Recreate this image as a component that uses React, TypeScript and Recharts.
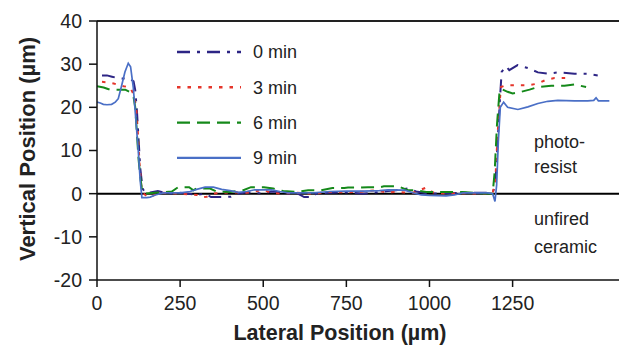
import React from "react";
import { LineChart, Line, XAxis, YAxis, ReferenceLine, Legend, Label } from "recharts";

// profile traces, lateral position (µm) vs vertical position (µm)
const x0 = [15, 30, 45, 60, 75, 100, 110, 115, 120, 124, 130, 137, 145, 160, 183, 200, 225, 250, 275, 300, 325, 343, 375, 403, 425, 450, 475, 500, 525, 550, 575, 600, 623, 644, 660, 700, 750, 800, 850, 875, 900, 935, 960, 1000, 1050, 1100, 1150, 1190, 1198, 1205, 1212, 1217, 1230, 1240, 1265, 1300, 1326, 1356, 1386, 1436, 1476, 1506];
const y0 = [27.4, 27.4, 27.1, 26.8, 26.7, 26.6, 26, 24, 19.3, 14, 6, 1.2, 0.2, 0.3, 0.6, 0.3, 0, 0.2, 0, -0.3, 0, -0.8, -0.8, -0.7, 0, 0.3, 0.2, 0, 0.5, 0.3, 0, 0.2, -0.8, -0.8, 0, 0.2, 0.3, 0, 0.4, 0.6, 0.8, 1.2, 0.5, 0, 0.1, 0.2, 0.2, 0.2, 2, 12, 22, 28.2, 29.5, 28.6, 29.8, 29, 28.1, 27.8, 28.1, 27.8, 27.8, 27.4];

const x3 = [15, 30, 50, 65, 80, 100, 110, 118, 123, 128, 133, 140, 150, 160, 180, 200, 250, 300, 313, 330, 350, 400, 450, 500, 520, 550, 600, 650, 700, 750, 800, 840, 870, 900, 950, 990, 1010, 1050, 1100, 1150, 1190, 1198, 1205, 1212, 1215, 1230, 1266, 1296, 1326, 1351, 1376, 1416];
const y3 = [25.9, 25.8, 25.5, 25.2, 24.9, 24.6, 23, 20, 14, 7, 2, 0, -0.5, -0.8, 0, 0.2, 0, -0.3, -0.8, -0.7, 0, 0.3, 0.2, 0.9, 0.3, 0, 0.2, 0, 0.4, 0.3, 0.5, 0.8, 0.3, 0.4, 0.2, 1.4, 0.3, 0, 0.1, 0, 0.1, 3, 14, 22, 24.7, 25.1, 25.1, 25.1, 25.5, 26.4, 26.8, 26.8];

const x6 = [0, 20, 35, 50, 85, 100, 110, 115, 120, 125, 130, 135, 140, 175, 200, 225, 244, 277, 290, 300, 340, 360, 400, 440, 463, 502, 530, 560, 600, 635, 674, 708, 744, 755, 794, 815, 850, 863, 905, 935, 960, 990, 1050, 1100, 1150, 1190, 1196, 1203, 1210, 1215, 1235, 1250, 1276, 1301, 1326, 1366, 1406, 1436, 1471];
const y6 = [24.9, 24.6, 24.2, 24.1, 24.1, 23.5, 22.4, 20, 14, 8, 4, 1, 0, 0.2, 0.3, 0.5, 1.5, 1.5, 0.8, 1.2, 1.2, 0.5, 0.4, 0.8, 1.5, 1.5, 1.2, 0.6, 0.4, 0.8, 0.8, 1.3, 1.3, 1.4, 1.4, 1.5, 1.5, 1.7, 1.7, 0.8, 0.8, 0.4, 0.4, 0.4, 0.1, 0, 5, 16, 23, 24.3, 23.6, 23.2, 23.6, 24.1, 24.7, 25, 25, 25.3, 24.7];

const x9 = [0, 10, 19, 30, 44, 55, 64, 74, 84, 94, 101, 109, 117, 124, 130, 135, 150, 160, 175, 200, 250, 280, 300, 325, 350, 375, 400, 425, 450, 475, 525, 550, 575, 650, 700, 750, 800, 850, 875, 925, 950, 975, 1000, 1050, 1075, 1100, 1175, 1190, 1197, 1202, 1207, 1213, 1223, 1235, 1266, 1296, 1326, 1356, 1386, 1436, 1476, 1494, 1501, 1508, 1541];
const y9 = [21.2, 21, 20.7, 20.6, 20.7, 21.2, 22, 25, 28.2, 30.2, 29.4, 24.7, 17, 10, 3, -0.9, -0.9, -0.8, -0.3, 0.2, 0.2, 0.5, 1, 1.5, 1.5, 1, 0.7, 0.3, 0.5, 0.9, 0.9, 0.5, 0.2, 0.2, 0.5, 0.6, 0.6, 0.7, 0.9, 0.8, 0.2, -0.3, -0.4, -0.5, -0.3, 0.2, 0.2, 0, -1.8, 2, 12, 20, 21.2, 20, 19.5, 20.1, 20.9, 21.4, 21.6, 21.5, 21.5, 21.6, 22.2, 21.5, 21.5];

const xTicks = [0, 250, 500, 750, 1000, 1250];
const yTicks = [-20, -10, 0, 10, 20, 30, 40];

const series = [
  { name: "0 min", color: "#2d2585", dash: "13 7 3 7", width: 2, xs: x0, ys: y0 },
  { name: "3 min", color: "#e5352b", dash: "3.5 7", width: 2, xs: x3, ys: y3 },
  { name: "6 min", color: "#15891a", dash: "13 7", width: 2, xs: x6, ys: y6 },
  { name: "9 min", color: "#4a6fc6", dash: undefined, width: 1.7, xs: x9, ys: y9 },
];

const FONT = "'Liberation Sans', Arial, Helvetica, sans-serif";
const INK = "#222";

function LegendBox() {
  return (
    <svg width={170} height={140} style={{ fontFamily: FONT }}>
      {series.map((s, i) => {
        const y = 17 + i * 35.3;
        return (
          <g key={s.name}>
            <line x1={7} x2={71} y1={y} y2={y} stroke={s.color} strokeWidth={s.width + 0.4} strokeDasharray={s.dash} />
            <text x={83} y={y} dy="0.35em" fontSize={18} fill={INK}>
              {s.name}
            </text>
          </g>
        );
      })}
    </svg>
  );
}

export default function App() {
  return (
    <div style={{ position: "absolute", left: 0, top: 0, width: 619, height: 346, background: "#fff", fontFamily: FONT }}>
      <LineChart width={619} height={346} margin={{ top: 21, right: 0, bottom: 0, left: 0 }}>
        <XAxis
          type="number"
          dataKey="x"
          domain={[0, 1570]}
          ticks={xTicks}
          allowDataOverflow
          height={66}
          tickSize={7}
          tickMargin={9}
          interval={0}
          stroke="#111"
          strokeWidth={1.5}
          tick={{ fill: INK, fontSize: 19.5, fontFamily: FONT }}
        >
          <Label
            content={() => (
              <text x={340} y={340} textAnchor="middle" fontSize={21.5} fontWeight="bold" fill={INK} fontFamily={FONT}>
                Lateral Position (µm)
              </text>
            )}
          />
        </XAxis>
        <YAxis
          type="number"
          domain={[-20, 40]}
          ticks={yTicks}
          width={97}
          tickSize={8}
          tickMargin={7}
          interval={0}
          stroke="#111"
          strokeWidth={1.5}
          tick={{ fill: INK, fontSize: 19.5, fontFamily: FONT }}
        >
          <Label
            content={() => (
              <text
                x={35}
                y={149}
                transform="rotate(-90 35 149)"
                textAnchor="middle"
                fontSize={22}
                fontWeight="bold"
                fill={INK}
                fontFamily={FONT}
              >
                Vertical Position (µm)
              </text>
            )}
          />
        </YAxis>
        <ReferenceLine y={40} stroke="#222" strokeWidth={2} />
        <ReferenceLine y={0} stroke="#000" strokeWidth={2} />
        {series.map((s) => (
          <Line
            key={s.name}
            name={s.name}
            data={s.xs.map((x, i) => ({ x, y: s.ys[i] }))}
            dataKey="y"
            type="linear"
            stroke={s.color}
            strokeWidth={s.width}
            strokeDasharray={s.dash}
            dot={false}
            activeDot={false}
            isAnimationActive={false}
          />
        ))}
        <Legend
          layout="vertical"
          align="center"
          verticalAlign="middle"
          content={() => <LegendBox />}
          wrapperStyle={{ position: "absolute", left: 170, top: 35, width: 170, height: 140 }}
        />
        <g fontFamily={FONT} fontSize={18} fill={INK}>
          <text x={534} y={148}>photo-</text>
          <text x={534} y={173}>resist</text>
          <text x={534} y={225}>unfired</text>
          <text x={534} y={253}>ceramic</text>
        </g>
      </LineChart>
    </div>
  );
}
